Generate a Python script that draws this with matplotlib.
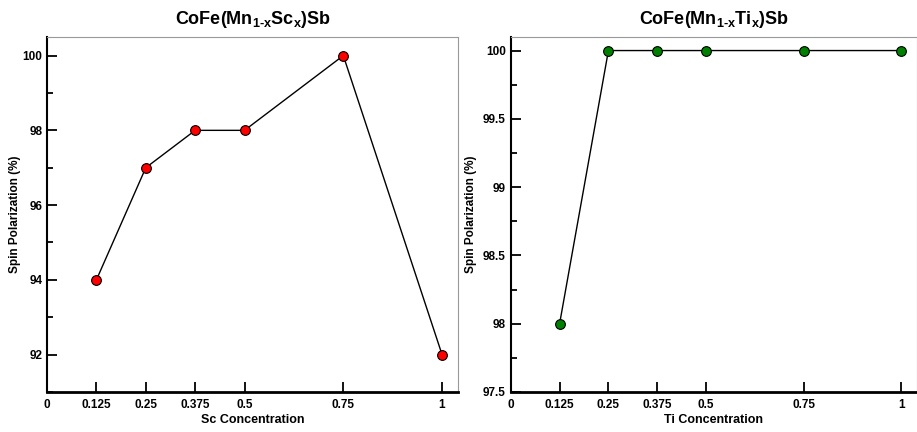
import numpy as np
import matplotlib
matplotlib.use("Agg")
import matplotlib.pyplot as plt
from matplotlib.ticker import MultipleLocator

plt.rcParams["font.family"] = ["Liberation Sans", "DejaVu Sans"]
plt.rcParams["font.weight"] = "bold"
plt.rcParams["mathtext.fontset"] = "custom"
plt.rcParams["mathtext.rm"] = "Liberation Sans:bold"
plt.rcParams["mathtext.it"] = "Liberation Sans:bold"
plt.rcParams["mathtext.bf"] = "Liberation Sans:bold"

# data
sc_x = [0.125, 0.25, 0.375, 0.5, 0.75, 1.0]
sc_pol = [94, 97, 98, 98, 100, 92]
ti_x = [0.125, 0.25, 0.375, 0.5, 0.75, 1.0]
ti_pol = [98, 100, 100, 100, 100, 100]
xticks = [0, 0.125, 0.25, 0.375, 0.5, 0.75, 1]
xtick_labels = ["0", "0.125", "0.25", "0.375", "0.5", "0.75", "1"]


def style_axes(ax, xlabel, ylabelpad):
    ax.set_xlim(0, 1.04)
    ax.set_xticks(xticks)
    ax.set_xticklabels(xtick_labels)
    ax.tick_params(axis="both", which="both", direction="in", labelsize=8.5, width=1.3)
    ax.tick_params(axis="both", which="major", length=7)
    ax.tick_params(axis="y", which="minor", length=4)
    ax.tick_params(axis="x", which="major", pad=5)
    ax.spines["left"].set_linewidth(1.5)
    ax.spines["bottom"].set_linewidth(2.0)
    for s in ["top", "right"]:
        ax.spines[s].set_color("#999999")
        ax.spines[s].set_linewidth(0.8)
    ax.set_xlabel(xlabel, fontsize=9, fontweight="bold", labelpad=2)
    ax.set_ylabel("Spin Polarization (%)", fontsize=8.5, fontweight="bold",
                  labelpad=ylabelpad)


fig = plt.figure(figsize=(9.17, 4.32), dpi=100)
ax1 = fig.add_axes([0.0513, 0.0926, 0.448, 0.822])
ax2 = fig.add_axes([0.557, 0.0926, 0.443, 0.822])

ax1.plot(sc_x, sc_pol, color="black", linewidth=1.0, marker="o", markersize=7,
         markerfacecolor="#ff0000", markeredgecolor="black", markeredgewidth=0.8)
ax1.set_ylim(91, 100.5)
ax1.yaxis.set_major_locator(MultipleLocator(2))
ax1.yaxis.set_minor_locator(MultipleLocator(1))
style_axes(ax1, "Sc Concentration", 1)
ax1.set_title(r"CoFe(Mn$_{\text{1-x}}$Sc$_{\text{x}}$)Sb", fontsize=13, fontweight="bold", pad=9)

ax2.plot(ti_x, ti_pol, color="black", linewidth=1.0, marker="o", markersize=7,
         markerfacecolor="#008000", markeredgecolor="black", markeredgewidth=0.8)
ax2.set_ylim(97.5, 100.1)
ax2.set_yticks([97.5, 98, 98.5, 99, 99.5, 100])
ax2.set_yticklabels(["97.5", "98", "98.5", "99", "99.5", "100"])
ax2.yaxis.set_minor_locator(MultipleLocator(0.25))
style_axes(ax2, "Ti Concentration", 4)
ax2.set_title(r"CoFe(Mn$_{\text{1-x}}$Ti$_{\text{x}}$)Sb", fontsize=13, fontweight="bold", pad=9)

fig.savefig("out.png", dpi=100)
